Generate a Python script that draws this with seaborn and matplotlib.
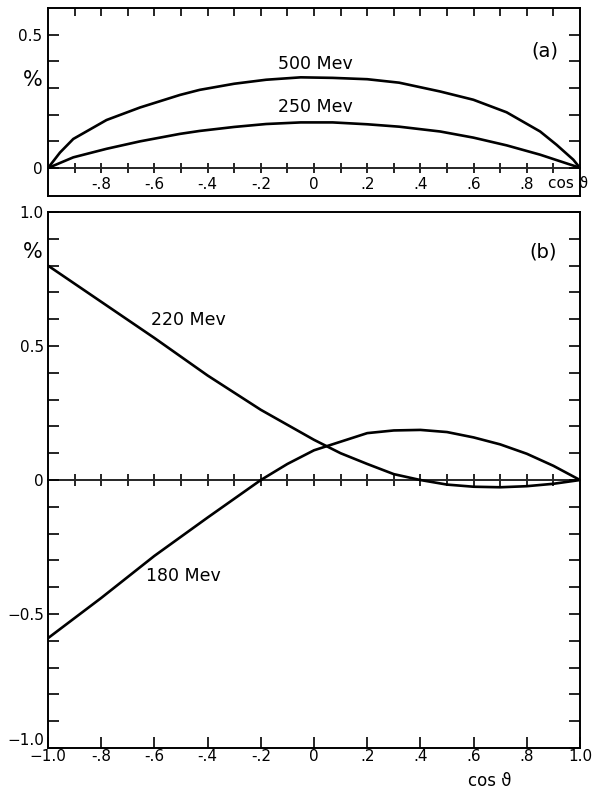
import matplotlib
matplotlib.use("Agg")
import matplotlib.pyplot as plt
import seaborn as sns
import pandas as pd
import numpy as np

sns.set_theme(style="ticks")
plt.rcParams['font.family'] = ['DejaVu Sans']
plt.rcParams.update({"text.color": "black", "xtick.color": "black",
                     "ytick.color": "black", "axes.labelcolor": "black"})

# ---- panel (a) ----
cos_500 = [-1.0, -0.955, -0.905, -0.78, -0.654, -0.504, -0.43, -0.30, -0.18, -0.05,
           0.07, 0.20, 0.32, 0.474, 0.599, 0.724, 0.85, 0.912, 0.975, 1.0]
mev_500 = [0.0, 0.058, 0.109, 0.18, 0.227, 0.274, 0.293, 0.316, 0.331, 0.34,
           0.338, 0.333, 0.32, 0.287, 0.256, 0.209, 0.137, 0.087, 0.031, 0.0]
cos_250 = [-1.0, -0.905, -0.78, -0.654, -0.504, -0.43, -0.30, -0.18, -0.05,
           0.07, 0.20, 0.32, 0.474, 0.599, 0.724, 0.85, 0.975, 1.0]
mev_250 = [0.0, 0.04, 0.072, 0.10, 0.128, 0.139, 0.154, 0.165, 0.171,
           0.171, 0.164, 0.155, 0.137, 0.114, 0.085, 0.05, 0.009, 0.0]

# ---- panel (b) ----
cos_220 = [-1.0, -0.8, -0.6, -0.4, -0.2, 0.0, 0.1, 0.2, 0.3, 0.4, 0.5, 0.6, 0.7, 0.8, 0.9, 1.0]
mev_220 = [0.80, 0.665, 0.53, 0.39, 0.262, 0.15, 0.10, 0.06, 0.022, 0.0,
           -0.017, -0.025, -0.027, -0.023, -0.014, 0.0]
cos_180 = [-1.0, -0.8, -0.6, -0.4, -0.2, -0.1, 0.0, 0.1, 0.2, 0.3, 0.4, 0.5, 0.6, 0.7, 0.8, 0.9, 1.0]
mev_180 = [-0.59, -0.44, -0.283, -0.14, 0.0, 0.06, 0.111, 0.143, 0.175, 0.185, 0.187,
           0.179, 0.159, 0.133, 0.098, 0.053, 0.0]

a_xticks = [-0.8, -0.6, -0.4, -0.2, 0.0, 0.2, 0.4, 0.6, 0.8]
a_xlabels = ['-.8', '-.6', '-.4', '-.2', '0', '.2', '.4', '.6', '.8']
a_yticks = [0.0, 0.5]
a_ylabels = ['0', '0.5']
b_xticks = [-1.0, -0.8, -0.6, -0.4, -0.2, 0.0, 0.2, 0.4, 0.6, 0.8, 1.0]
b_xlabels = ['\u22121.0', '-.8', '-.6', '-.4', '-.2', '0', '.2', '.4', '.6', '.8', '1.0']
b_yticks = [-1.0, -0.5, 0.0, 0.5, 1.0]
b_ylabels = ['\u22121.0', '\u22120.5', '0', '0.5', '1.0']

df_a = pd.concat([
    pd.DataFrame({"cos": cos_500, "pct": mev_500, "E": "500 Mev"}),
    pd.DataFrame({"cos": cos_250, "pct": mev_250, "E": "250 Mev"}),
])
df_b = pd.concat([
    pd.DataFrame({"cos": cos_220, "pct": mev_220, "E": "220 Mev"}),
    pd.DataFrame({"cos": cos_180, "pct": mev_180, "E": "180 Mev"}),
])

fig = plt.figure(figsize=(5.95, 7.92), dpi=100)
ax_a = fig.add_axes([0.0807, 0.7525, 0.8941, 0.2374])
ax_b = fig.add_axes([0.0807, 0.0555, 0.8941, 0.6768])

LW = 1.9
minor_x = np.round(np.arange(-0.9, 0.95, 0.1), 1)

for ax in (ax_a, ax_b):
    for s in ax.spines.values():
        s.set_linewidth(1.4)
        s.set_color("black")
    ax.set_xlim(-1, 1)

# panel (a)
sns.lineplot(data=df_a, x="cos", y="pct", units="E", estimator=None, sort=False,
             color="black", linewidth=LW, ax=ax_a, legend=False)
a_lo, a_hi = -0.105, 0.6
ax_a.set_ylim(a_lo, a_hi)
ax_a.set_xlabel("")
ax_a.set_ylabel("")
ax_a.set_xticks(minor_x)
ax_a.xaxis.set_ticks_position('top')
ax_a.tick_params(axis='x', direction='in', length=6, width=1.2, labeltop=False, labelbottom=False)
ax_a.set_yticks(a_yticks, labels=a_ylabels)
ax_a.set_yticks(np.round(np.arange(0.1, 0.55, 0.1), 1), minor=True)
ax_a.tick_params(axis='y', which='both', left=True, right=True, direction='in',
                 length=8, width=1.2, labelsize=11, pad=4)

# zero line with crossing ticks and the cos labels under it
zero_a = ax_a.secondary_xaxis(-a_lo / (a_hi - a_lo))
zero_a.set_xticks(a_xticks, labels=a_xlabels)
zero_a.set_xticks(minor_x, minor=True)
zero_a.tick_params(axis='x', which='both', direction='inout', length=7, width=1.2,
                   labelsize=11, pad=3)
zero_a.spines['bottom'].set_linewidth(1.4)

ax_a.text(0.004, 0.39, "500 Mev", ha="center", va="center", fontsize=12.5)
ax_a.text(0.004, 0.228, "250 Mev", ha="center", va="center", fontsize=12.5)
ax_a.text(0.868, 0.44, "(a)", ha="center", va="center", fontsize=14)
ax_a.text(-1.056, 0.33, "%", ha="center", va="center", fontsize=15, clip_on=False)
ax_a.text(0.955, -0.058, "cos \u03d1", ha="center", va="center", fontsize=11)

# panel (b)
sns.lineplot(data=df_b, x="cos", y="pct", units="E", estimator=None, sort=False,
             color="black", linewidth=LW, ax=ax_b, legend=False)
ax_b.set_ylim(-1, 1)
ax_b.set_xlabel("")
ax_b.set_ylabel("")
ax_b.set_xticks(b_xticks, labels=b_xlabels)
ax_b.set_xticks(minor_x[1::2], minor=True)
ax_b.tick_params(axis='x', which='both', bottom=True, top=False, direction='in',
                 length=8, width=1.2, labelsize=11, pad=1)
ax_b.set_yticks(b_yticks, labels=b_ylabels)
ax_b.set_yticks(np.round(np.arange(-0.9, 0.95, 0.1), 1), minor=True)
ax_b.tick_params(axis='y', which='both', left=True, right=True, direction='in',
                 length=8, width=1.2, labelsize=11, pad=3)
ax_b.get_yticklabels()[0].set_va('bottom')

zero_b = ax_b.secondary_xaxis(0.5)
zero_b.set_xticks(minor_x)
zero_b.tick_params(axis='x', which='both', direction='inout', length=8, width=1.2,
                   labeltop=False, labelbottom=False)
for s in zero_b.spines.values():
    s.set_linewidth(1.4)

ax_b.text(-0.474, 0.598, "220 Mev", ha="center", va="center", fontsize=12.5)
ax_b.text(-0.492, -0.357, "180 Mev", ha="center", va="center", fontsize=12.5)
ax_b.text(0.86, 0.85, "(b)", ha="center", va="center", fontsize=14)
ax_b.text(-1.056, 0.85, "%", ha="center", va="center", fontsize=15, clip_on=False)
ax_b.text(0.66, -1.123, "cos \u03d1", ha="center", va="center", fontsize=12, clip_on=False)

fig.savefig("out.png", dpi=100)
